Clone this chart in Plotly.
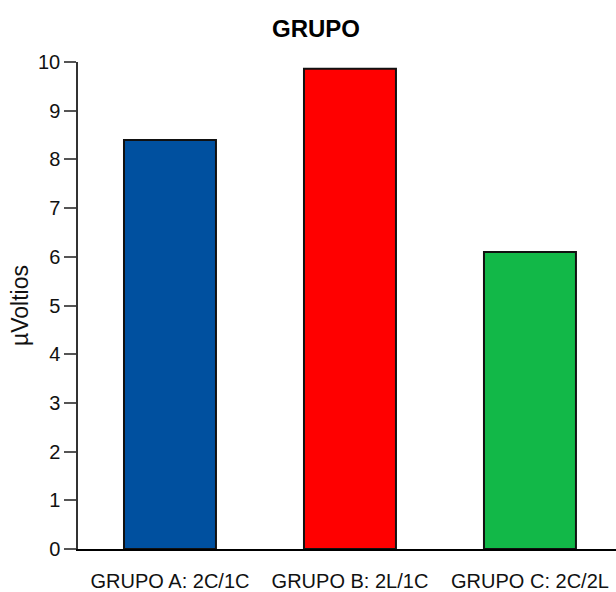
import plotly.graph_objects as go

categories = ["GRUPO A: 2C/1C", "GRUPO B: 2L/1C", "GRUPO C: 2C/2L"]
values = [8.40, 9.86, 6.10]
colors = ["#00509F", "#FF0000", "#12B848"]
y_ticks = list(range(0, 11))

FONT = "Liberation Sans Narrow, Arial Narrow, Liberation Sans, Arial, sans-serif"

fig = go.Figure(
    go.Bar(
        x=categories,
        y=values,
        marker=dict(color=colors, line=dict(color="#111111", width=2)),
        width=0.511,
        cliponaxis=False,
    )
)

fig.update_layout(
    width=616,
    height=592,
    margin=dict(l=78, r=0, t=62, b=43),
    paper_bgcolor="white",
    plot_bgcolor="white",
    showlegend=False,
    font=dict(family=FONT, color="#111111", size=20),
    title=dict(
        text="<b>GRUPO</b>",
        x=0.513,
        xanchor="center",
        y=0.952,
        yanchor="middle",
        font=dict(family=FONT, size=24, color="#000000"),
    ),
)

fig.update_xaxes(
    range=[-0.511, 2.478],
    showgrid=False,
    showline=True,
    linecolor="#000000",
    linewidth=2,
    ticks="",
    ticklabelstandoff=13,
    tickfont=dict(family=FONT, size=20, color="#111111"),
)

fig.update_yaxes(
    range=[0, 10],
    tickvals=y_ticks,
    showgrid=False,
    zeroline=False,
    showline=True,
    linecolor="#333333",
    linewidth=1.5,
    ticks="outside",
    ticklen=12,
    tickwidth=1.5,
    tickcolor="#555555",
    tickfont=dict(family=FONT, size=20, color="#111111"),
    title=dict(text="µVoltios", font=dict(family=FONT, size=23, color="#111111"), standoff=3),
)

fig.write_html("out.html")
